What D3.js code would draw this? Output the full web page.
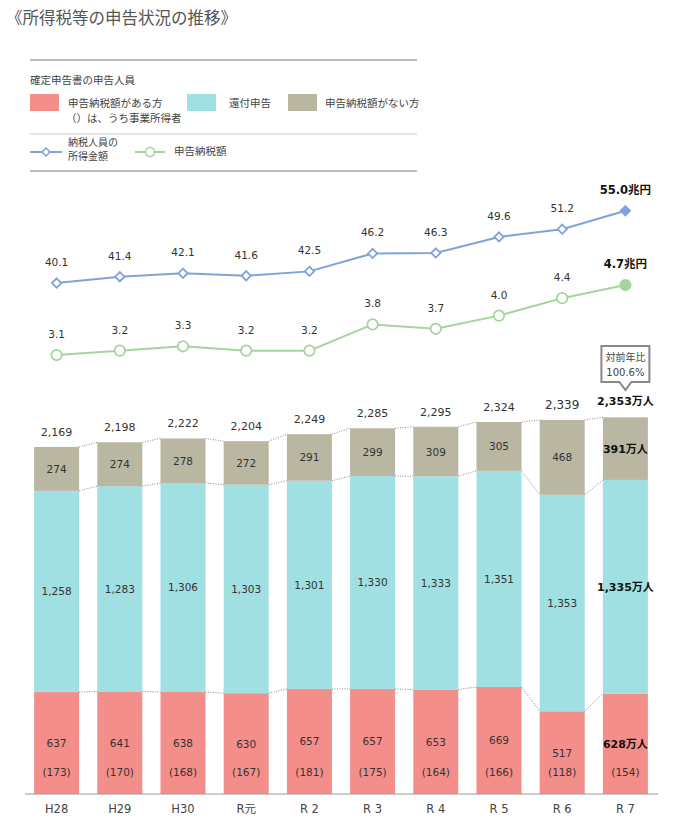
<!DOCTYPE html>
<html>
<head>
<meta charset="utf-8">
<script src="https://cdn.jsdelivr.net/npm/d3@7"></script>
<style>
  body { margin: 0; background: #fff; }
  svg { display: block; font-family: "DejaVu Sans", "Noto Sans CJK JP", sans-serif; }
</style>
</head>
<body>
<div id="chart"></div>
<script>
// data
const years = ["H28", "H29", "H30", "R元", "R 2", "R 3", "R 4", "R 5", "R 6", "R 7"];
const payers = [637, 641, 638, 630, 657, 657, 653, 669, 517, 628];       // 申告納税額がある方
const business = [173, 170, 168, 167, 181, 175, 164, 166, 118, 154];     // うち事業所得者
const refunds = [1258, 1283, 1306, 1303, 1301, 1330, 1333, 1351, 1353, 1335]; // 還付申告
const noTax = [274, 274, 278, 272, 291, 299, 309, 305, 468, 391];        // 申告納税額がない方
const totals = [2169, 2198, 2222, 2204, 2249, 2285, 2295, 2324, 2339, 2353];
const income = [40.1, 41.4, 42.1, 41.6, 42.5, 46.2, 46.3, 49.6, 51.2, 55.0]; // 納税人員の所得金額(兆円)
const taxAmount = [3.1, 3.2, 3.3, 3.2, 3.2, 3.8, 3.7, 4.0, 4.4, 4.7];      // 申告納税額(兆円)

const w = 679, h = 827;
const colPink = "#f38e8b", colCyan = "#a0dfe2", colBeige = "#b9b6a2";
const colBlue = "#7fa2dc", colGreen = "#a5d59d";

const svg = d3.select("#chart").append("svg")
    .attr("width", w)
    .attr("height", h);

// title
svg.append("text")
    .attr("x", 6).attr("y", 24)
    .attr("font-size", 16.5)
    .attr("fill", "#555")
    .attr("font-family", "Noto Sans CJK JP")
    .text("《所得税等の申告状況の推移》");

// ---- legend ----
const lg = svg.append("g").attr("font-family", "Noto Sans CJK JP").attr("font-size", 10.5).attr("fill", "#444");
lg.append("line").attr("x1", 30).attr("x2", 417).attr("y1", 60).attr("y2", 60).attr("stroke", "#bbb").attr("stroke-width", 2);
lg.append("line").attr("x1", 30).attr("x2", 417).attr("y1", 134).attr("y2", 134).attr("stroke", "#ccc").attr("stroke-width", 1);
lg.append("line").attr("x1", 30).attr("x2", 417).attr("y1", 171).attr("y2", 171).attr("stroke", "#bbb").attr("stroke-width", 2);
lg.append("text").attr("x", 30).attr("y", 84).text("確定申告書の申告人員");

const swatches = [
    {x: 30, c: colPink, label: "申告納税額がある方", tx: 68},
    {x: 187, c: colCyan, label: "還付申告", tx: 229},
    {x: 288, c: colBeige, label: "申告納税額がない方", tx: 325}
];
swatches.forEach(s => {
    lg.append("rect").attr("x", s.x).attr("y", 94).attr("width", 29).attr("height", 17).attr("fill", s.c);
    lg.append("text").attr("x", s.tx).attr("y", 107).text(s.label);
});
lg.append("text").attr("x", 66).attr("y", 122).text("（）は、うち事業所得者");

lg.append("line").attr("x1", 30).attr("x2", 62).attr("y1", 152).attr("y2", 152).attr("stroke", colBlue).attr("stroke-width", 2);
lg.append("path").attr("d", d3.symbol(d3.symbolDiamond2, 40)()).attr("transform", "translate(46,152)")
    .attr("fill", "#fff").attr("stroke", colBlue).attr("stroke-width", 1.6);
lg.append("text").attr("x", 68).attr("y", 146).attr("font-size", 10).text("納税人員の");
lg.append("text").attr("x", 68).attr("y", 160).attr("font-size", 10).text("所得金額");
lg.append("line").attr("x1", 135).attr("x2", 165).attr("y1", 152).attr("y2", 152).attr("stroke", colGreen).attr("stroke-width", 2);
lg.append("circle").attr("cx", 150).attr("cy", 152).attr("r", 4.5).attr("fill", "#fff").attr("stroke", colGreen).attr("stroke-width", 1.6);
lg.append("text").attr("x", 174).attr("y", 155).text("申告納税額");

// ---- scales ----
const x = d3.scaleBand().domain(years).range([25, 657]).paddingInner(0.288).paddingOuter(0.144);
const cx = d => x(d) + x.bandwidth() / 2;
const y = d3.scaleLinear().domain([0, 2400]).range([794, 410]);
const yIncome = d3.scaleLinear().domain([30, 60]).range([332, 186.5]);
const yTax = d3.scaleLinear().domain([3, 5]).range([359.4, 271.9]);

const rows = years.map((yr, i) => ({
    year: yr, i: i,
    p0: 0, p1: payers[i],
    c0: payers[i], c1: payers[i] + refunds[i],
    n0: payers[i] + refunds[i], n1: payers[i] + refunds[i] + noTax[i]
}));
const last = years.length - 1;

// ---- bars ----
const bars = svg.append("g");
const segs = [
    {k0: "p0", k1: "p1", c: colPink},
    {k0: "c0", k1: "c1", c: colCyan},
    {k0: "n0", k1: "n1", c: colBeige}
];
segs.forEach(s => {
    bars.selectAll(null).data(rows).enter().append("rect")
        .attr("x", d => x(d.year))
        .attr("width", x.bandwidth())
        .attr("y", d => y(d[s.k1]))
        .attr("height", d => y(d[s.k0]) - y(d[s.k1]))
        .attr("fill", s.c);
});

// dotted connectors between bar segment tops
["p1", "c1", "n1"].forEach(k => {
    bars.selectAll(null).data(rows.slice(0, -1)).enter().append("line")
        .attr("x1", d => x(d.year) + x.bandwidth())
        .attr("y1", d => y(d[k]))
        .attr("x2", d => x(years[d.i + 1]))
        .attr("y2", d => y(rows[d.i + 1][k]))
        .attr("stroke", "#888")
        .attr("stroke-width", 1)
        .attr("stroke-dasharray", "1,1.5");
});

// axis
svg.append("g")
    .attr("transform", "translate(0,794)")
    .call(d3.axisBottom(x).tickSize(0).tickPadding(11))
    .call(g => g.select(".domain").attr("d", "M25,0H658").attr("stroke", "#999"))
    .call(g => g.selectAll("text").attr("font-size", 11.5).attr("fill", "#444")
        .attr("font-family", "DejaVu Sans, Noto Sans CJK JP"));

// bar labels
const fmt = d3.format(",");
const bl = svg.append("g").attr("text-anchor", "middle").attr("font-size", 10.5).attr("fill", "#333");
const plain = rows.slice(0, last);
bl.selectAll(null).data(plain).enter().append("text")
    .attr("x", d => cx(d.year)).attr("y", d => (y(d.n0) + y(d.n1)) / 2 + 4)
    .text(d => fmt(noTax[d.i]));
bl.selectAll(null).data(plain).enter().append("text")
    .attr("x", d => cx(d.year)).attr("y", d => (y(d.c0) + y(d.c1)) / 2 + 4)
    .text(d => fmt(refunds[d.i]));
bl.selectAll(null).data(plain).enter().append("text")
    .attr("x", d => cx(d.year)).attr("y", d => (y(d.p0) + y(d.p1)) / 2 + 4)
    .text(d => fmt(payers[d.i]));
bl.selectAll(null).data(rows).enter().append("text")
    .attr("x", d => cx(d.year)).attr("y", 776)
    .text(d => "(" + business[d.i] + ")");
bl.selectAll(null).data(plain).enter().append("text")
    .attr("x", d => cx(d.year)).attr("y", d => y(d.n1) - 11)
    .attr("font-size", d => d.i === last - 1 ? 12 : 11)
    .text(d => fmt(totals[d.i]));

// latest year, bold with units
const r = rows[last];
const bold = svg.append("g").attr("text-anchor", "middle").attr("font-weight", "bold").attr("font-size", 11).attr("fill", "#111");
bold.append("text").attr("x", cx(r.year)).attr("y", (y(r.n0) + y(r.n1)) / 2 + 4).text(fmt(noTax[last]) + "万人");
bold.append("text").attr("x", cx(r.year)).attr("y", (y(r.c0) + y(r.c1)) / 2 + 4).text(fmt(refunds[last]) + "万人");
bold.append("text").attr("x", cx(r.year)).attr("y", (y(r.p0) + y(r.p1)) / 2 + 4).text(fmt(payers[last]) + "万人");
bold.append("text").attr("x", cx(r.year)).attr("y", y(r.n1) - 12).text(fmt(totals[last]) + "万人");

// callout 対前年比
const bx = cx(r.year), by = 346;
svg.append("path")
    .attr("d", `M${bx - 24},${by}H${bx + 24}V${by + 36}H${bx + 6}L${bx},${by + 44}L${bx - 6},${by + 36}H${bx - 24}Z`)
    .attr("fill", "#fff").attr("stroke", "#888").attr("stroke-width", 2);
svg.append("text").attr("x", bx).attr("y", by + 15).attr("text-anchor", "middle")
    .attr("font-size", 10).attr("fill", "#444").text("対前年比");
svg.append("text").attr("x", bx).attr("y", by + 30).attr("text-anchor", "middle")
    .attr("font-size", 10).attr("fill", "#444")
    .text((totals[last] / totals[last - 1] * 100).toFixed(1) + "%");

// ---- lines ----
function drawLine(values, scale, color, marker, unitLabel) {
    const g = svg.append("g");
    g.append("path")
        .datum(values)
        .attr("fill", "none")
        .attr("stroke", color)
        .attr("stroke-width", 2)
        .attr("d", d3.line().x((d, i) => cx(years[i])).y(d => scale(d)));
    g.selectAll(null).data(values).enter().append("path")
        .attr("d", marker)
        .attr("transform", (d, i) => `translate(${cx(years[i])},${scale(d)})`)
        .attr("fill", (d, i) => i === last ? color : "#fff")
        .attr("stroke", color)
        .attr("stroke-width", 1.8);
    g.selectAll(null).data(values).enter().append("text")
        .attr("x", (d, i) => cx(years[i]))
        .attr("y", d => scale(d) - 17)
        .attr("text-anchor", "middle")
        .attr("font-size", (d, i) => i === last ? 11.5 : 10.5)
        .attr("font-weight", (d, i) => i === last ? "bold" : null)
        .attr("fill", (d, i) => i === last ? "#111" : "#333")
        .text((d, i) => d.toFixed(1) + (i === last ? unitLabel : ""));
}
drawLine(income, yIncome, colBlue, d3.symbol(d3.symbolDiamond2, 55)(), "兆円");
drawLine(taxAmount, yTax, colGreen, d3.symbol(d3.symbolCircle, 85)(), "兆円");
</script>
</body>
</html>
